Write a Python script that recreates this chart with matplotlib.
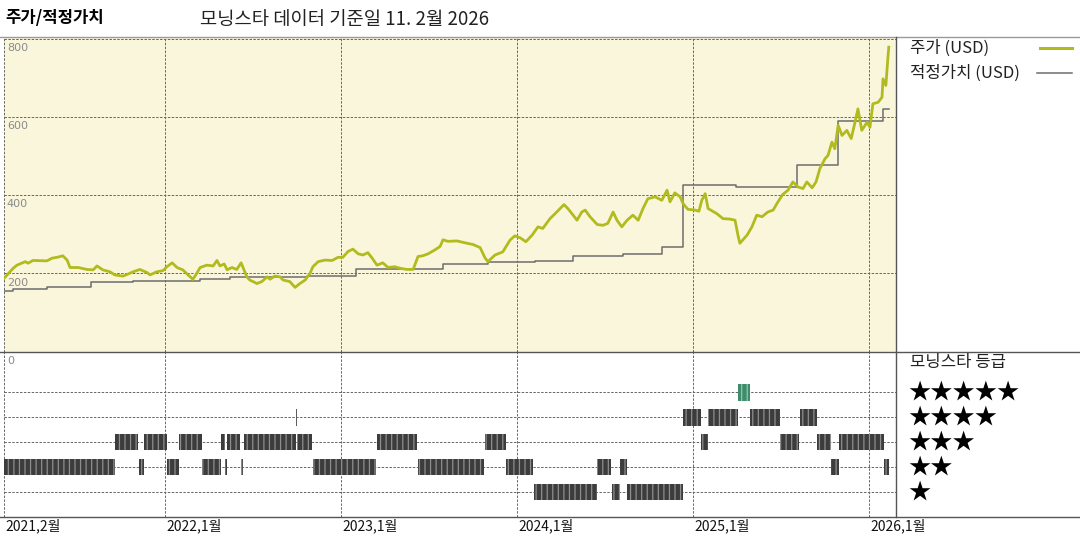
import matplotlib
matplotlib.use("Agg")
import matplotlib.pyplot as plt
import matplotlib.dates as mdates
import matplotlib.transforms as mtransforms
from matplotlib.lines import Line2D
import pandas as pd

plt.rcParams["font.family"] = ["Noto Sans CJK KR", "DejaVu Sans"]
plt.rcParams["hatch.linewidth"] = 0.9

# ==========================
# Data
# ==========================
price_dates = [
    "2021-02-01", "2021-02-20", "2021-02-28", "2021-03-17", "2021-03-23", "2021-04-02",
    "2021-05-01", "2021-05-12", "2021-05-22", "2021-06-03", "2021-06-12", "2021-06-18",
    "2021-07-05", "2021-07-23", "2021-08-05", "2021-08-13", "2021-08-25", "2021-09-09",
    "2021-09-19", "2021-10-06", "2021-10-16", "2021-10-27", "2021-11-10", "2021-11-25",
    "2021-12-01", "2021-12-15", "2021-12-28", "2022-01-05", "2022-01-16", "2022-01-26",
    "2022-02-07", "2022-02-18", "2022-02-28", "2022-03-08", "2022-03-15", "2022-03-29",
    "2022-04-11", "2022-04-19", "2022-04-25", "2022-05-04", "2022-05-10", "2022-05-20",
    "2022-05-30", "2022-06-08", "2022-06-14", "2022-06-20", "2022-06-26", "2022-07-11",
    "2022-07-21", "2022-08-01", "2022-08-07", "2022-08-17", "2022-08-28", "2022-09-03",
    "2022-09-17", "2022-09-28", "2022-10-08", "2022-10-19", "2022-10-29", "2022-11-04",
    "2022-11-15", "2022-11-29", "2022-12-14", "2022-12-26", "2023-01-05", "2023-01-16",
    "2023-01-26", "2023-02-06", "2023-02-16", "2023-02-26", "2023-03-07", "2023-03-17",
    "2023-03-29", "2023-04-09", "2023-04-23", "2023-05-04", "2023-05-18", "2023-05-31",
    "2023-06-10", "2023-06-20", "2023-07-01", "2023-07-15", "2023-07-26", "2023-08-01",
    "2023-08-11", "2023-08-30", "2023-09-20", "2023-10-02", "2023-10-17", "2023-10-27",
    "2023-11-02", "2023-11-17", "2023-12-03", "2023-12-18", "2023-12-28", "2024-01-08",
    "2024-01-20", "2024-02-02", "2024-02-14", "2024-02-24", "2024-03-10", "2024-03-24",
    "2024-04-08", "2024-04-16", "2024-04-27", "2024-05-05", "2024-05-15", "2024-05-22",
    "2024-06-01", "2024-06-16", "2024-06-28", "2024-07-08", "2024-07-19", "2024-07-27",
    "2024-08-06", "2024-08-17", "2024-08-29", "2024-09-09", "2024-09-19", "2024-09-29",
    "2024-10-14", "2024-10-28", "2024-11-08", "2024-11-14", "2024-11-24", "2024-12-05",
    "2024-12-11", "2024-12-21", "2025-01-05", "2025-01-13", "2025-01-19", "2025-01-26",
    "2025-02-01", "2025-02-19", "2025-03-04", "2025-03-18", "2025-03-29", "2025-04-04",
    "2025-04-08", "2025-04-23", "2025-05-03", "2025-05-13", "2025-05-24", "2025-06-05",
    "2025-06-16", "2025-06-26", "2025-07-06", "2025-07-17", "2025-07-27", "2025-08-07",
    "2025-08-17", "2025-08-25", "2025-09-05", "2025-09-13", "2025-09-21", "2025-10-02",
    "2025-10-08", "2025-10-16", "2025-10-22", "2025-10-29", "2025-11-06", "2025-11-16",
    "2025-11-25", "2025-12-03", "2025-12-09", "2025-12-17", "2025-12-28", "2026-01-03",
    "2026-01-09", "2026-01-20", "2026-01-28", "2026-01-30", "2026-02-05", "2026-02-09",
    "2026-02-11",
]
price_values = [
    187, 213, 221, 230, 226, 233,
    232, 239, 241, 245, 234, 215,
    215, 210, 209, 219, 209, 204,
    196, 193, 198, 204, 210, 202,
    196, 204, 207, 217, 227, 215,
    209, 196, 185, 200, 215, 221,
    219, 233, 219, 224, 209, 215,
    210, 227, 209, 191, 183, 174,
    179, 191, 185, 193, 191, 183,
    179, 164, 174, 183, 200, 217,
    230, 234, 233, 241, 241, 256,
    262, 250, 247, 253, 239, 221,
    227, 215, 217, 213, 210, 210,
    243, 245, 250, 260, 269, 286,
    282, 283, 277, 274, 266, 240,
    230, 247, 255, 285, 296, 291,
    281, 298, 319, 315, 340, 357,
    376, 366, 349, 336, 357, 362,
    345, 325, 323, 328, 357, 336,
    319, 336, 349, 336, 366, 391,
    396, 387, 413, 383, 406, 396,
    379, 364, 362, 359, 387, 404,
    366, 353, 340, 339, 336, 298,
    277, 298, 319, 349, 345, 357,
    362, 383, 402, 413, 434, 421,
    417, 434, 419, 434, 468, 494,
    502, 536, 519, 579, 553, 566,
    545, 587, 621, 566, 587, 574,
    634, 638, 651, 698, 681, 749,
    779,
]

fair_dates = [
    "2021-02-01", "2021-02-20", "2021-05-01", "2021-08-01", "2021-10-27", "2022-03-15",
    "2022-05-16", "2022-10-23", "2023-02-01", "2023-08-01", "2023-11-02", "2024-02-07",
    "2024-04-27", "2024-08-08", "2024-10-28", "2024-12-11", "2025-03-31", "2025-08-05",
    "2025-10-29", "2026-01-30", "2026-02-11",
]
fair_values = [
    154, 160, 164, 177, 181, 185,
    190, 194, 211, 223, 230, 232,
    245, 249, 268, 425, 421, 477,
    589, 620, 620,
]

# Morningstar star rating periods
rating_start = [
    "2021-02-01", "2021-09-19", "2021-11-08", "2021-11-18", "2022-01-05", "2022-01-30",
    "2022-03-18", "2022-04-28", "2022-05-05", "2022-05-09", "2022-06-07", "2022-06-13",
    "2022-09-29", "2022-10-03", "2022-11-05", "2023-03-16", "2023-06-11", "2023-07-31",
    "2023-10-28", "2023-12-09", "2024-02-05", "2024-06-15", "2024-07-16", "2024-08-03",
    "2024-08-16", "2024-12-10", "2025-01-18", "2025-01-31", "2025-04-05", "2025-04-30",
    "2025-07-01", "2025-08-10", "2025-09-16", "2025-10-15", "2025-10-30", "2026-02-02",
]
rating_end = [
    "2021-09-19", "2021-11-06", "2021-11-18", "2022-01-05", "2022-01-30", "2022-03-18",
    "2022-04-28", "2022-05-05", "2022-05-09", "2022-06-05", "2022-06-11", "2022-09-29",
    "2022-10-03", "2022-11-03", "2023-03-14", "2023-06-09", "2023-10-26", "2023-08-01",
    "2023-12-09", "2024-02-03", "2024-06-15", "2024-07-14", "2024-08-03", "2024-08-16",
    "2024-12-10", "2025-01-18", "2025-01-31", "2025-04-05", "2025-04-30", "2025-07-01",
    "2025-08-08", "2025-09-16", "2025-10-15", "2025-10-30", "2026-02-01", "2026-02-11",
]
rating_value = [
    2, 3, 2, 3, 2, 3,
    2, 3, 2, 3, 2, 3,
    4, 3, 2, 3, 2, 1,
    3, 2, 1, 2, 1, 2,
    1, 4, 3, 4, 5, 4,
    3, 4, 3, 2, 3, 2,
]

year_ticks = ["2021-02-01", "2022-01-01", "2023-01-01", "2024-01-01", "2025-01-01", "2026-01-01"]
year_labels = ["2021,2월", "2022,1월", "2023,1월", "2024,1월", "2025,1월", "2026,1월"]
price_ticks = [200, 400, 600, 800]
star_labels = ["★★★★★", "★★★★", "★★★", "★★", "★"]

# ==========================
# Layout (pixel boxes on a 1080x540 canvas)
# ==========================
W, H = 1080, 540
fig = plt.figure(figsize=(10.8, 5.4), dpi=100)


def box(left, top, right, bottom):
    return [left / W, 1 - bottom / H, (right - left) / W, (bottom - top) / H]


ax = fig.add_axes(box(4, 37, 896, 351.5))
ax2 = fig.add_axes(box(4, 351.5, 896, 517), sharex=ax)

grid_kw = dict(color="#666666", lw=0.7, ls=(0, (2.5, 1.5)), zorder=1)

# --- price / fair value panel ---
ax.set_facecolor("#FAF6DC")
for y in price_ticks:
    ax.axhline(y, **grid_kw)
    ax.annotate(str(y), xy=(0, y), xycoords=("axes fraction", "data"),
                xytext=(2, -3), textcoords="offset points", va="top",
                fontsize=8, color="#8a8a8a", family="DejaVu Sans")
ax.plot(pd.to_datetime(price_dates), price_values, color="#B2BB1E", lw=2.0, zorder=3)
ax.step(pd.to_datetime(fair_dates), fair_values, where="post", color="#6c6c6c", lw=1.1, zorder=2)
ax.set_ylim(0, 805)

# --- star rating panel ---
ax2.set_facecolor("white")
for r in range(1, 6):
    ax2.axhline(r, **grid_kw)
starts = mdates.date2num(pd.to_datetime(rating_start))
ends = mdates.date2num(pd.to_datetime(rating_end))
for s, e, r in zip(starts, ends, rating_value):
    face, hatch_col = ("#3E8C6C", "#8FC8B0") if r == 5 else ("#3C3C3C", "#8E8E8E")
    ax2.bar(s, 0.66, width=max(e - s, 1.0), bottom=r - 0.33, align="edge",
            color=face, edgecolor=hatch_col, linewidth=0, hatch="|||", zorder=3)
ax2.set_ylim(0, 6.64)
ax2.annotate("0", xy=(0, 1), xycoords="axes fraction", xytext=(2, -3),
             textcoords="offset points", va="top", fontsize=8, color="#8a8a8a",
             family="DejaVu Sans")

for d in pd.to_datetime(year_ticks):
    ax.axvline(d, **grid_kw)
    ax2.axvline(d, **grid_kw)
for d, lab in zip(pd.to_datetime(year_ticks), year_labels):
    ax2.annotate(lab, xy=(mdates.date2num(d), 0), xycoords=("data", "axes fraction"),
                 xytext=(1, -1), textcoords="offset points", va="top", ha="left",
                 fontsize=10, color="#111111")

ax.set_xlim(pd.Timestamp("2021-02-01"), pd.Timestamp("2026-02-26"))
for a in (ax, ax2):
    a.set_xticks([])
    a.set_yticks([])
    for sp in a.spines.values():
        sp.set_visible(False)

# --- frame lines ---
fig.add_artist(Line2D([0, 1], [1 - 37 / H] * 2, transform=fig.transFigure, color="#9a9a9a", lw=1.0))
fig.add_artist(Line2D([0, 1], [1 - 351.5 / H] * 2, transform=fig.transFigure, color="#555555", lw=1.0))
fig.add_artist(Line2D([0, 1], [1 - 517 / H] * 2, transform=fig.transFigure, color="#555555", lw=1.0))
fig.add_artist(Line2D([896 / W] * 2, [1 - 517 / H, 1 - 37 / H], transform=fig.transFigure, color="#555555", lw=1.0))

# --- titles ---
fig.text(5 / W, 1 - 18 / H, "주가/적정가치", fontsize=12, fontweight="bold", va="center")
fig.text(200 / W, 1 - 20 / H, "모닝스타 데이터 기준일 11. 2월 2026", fontsize=13.5, va="center", color="#222222")

# --- legend ---
fig.text(910 / W, 1 - 48 / H, "주가 (USD)", fontsize=12, va="center", color="#222222")
fig.text(910 / W, 1 - 73 / H, "적정가치 (USD)", fontsize=12, va="center", color="#222222")
fig.add_artist(Line2D([1040 / W, 1072 / W], [1 - 48 / H] * 2, transform=fig.transFigure, color="#B2BB1E", lw=2.2))
fig.add_artist(Line2D([1037 / W, 1072 / W], [1 - 73 / H] * 2, transform=fig.transFigure, color="#6c6c6c", lw=1.1))

fig.text(910 / W, 1 - 362 / H, "모닝스타 등급", fontsize=12, va="center", color="#222222")
star_tr = mtransforms.blended_transform_factory(fig.transFigure, ax2.transData)
for i, lab in enumerate(star_labels):
    fig.text(908 / W, 5 - i, lab, transform=star_tr, fontsize=16, va="center", color="black")

fig.savefig("out.png", dpi=100)
